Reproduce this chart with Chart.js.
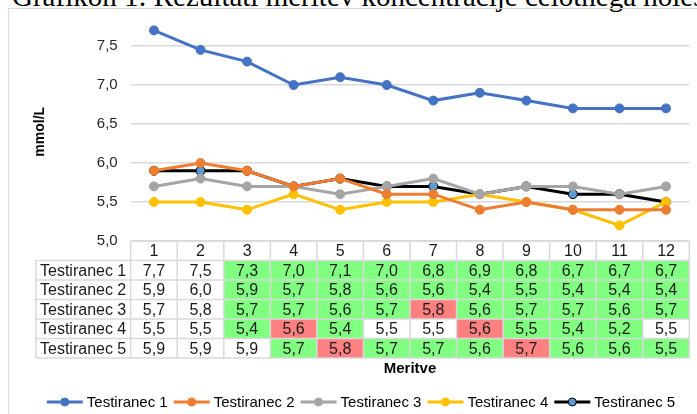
<!DOCTYPE html>
<html>
<head>
<meta charset="utf-8">
<script src="https://cdn.jsdelivr.net/npm/chart.js@4"></script>
<style>
  html, body { margin: 0; padding: 0; background: #fff; overflow: hidden; }
  #wrap { position: relative; width: 697px; height: 414px; }
  #title { position: absolute; left: 12px; top: -18px; font: 29px "Liberation Serif", "Times New Roman", serif; line-height: 29px; white-space: nowrap; color: #000; }
  #frame { position: absolute; left: 8px; top: 8px; width: 720px; height: 440px; border: 1px solid #d9d9d9; }
  #chart-box { position: absolute; left: 0; top: 0; width: 697px; height: 414px; }
</style>
</head>
<body>
<div id="wrap">
  <div id="title">Grafikon 1: Rezultati meritev koncentracije celotnega holesterola</div>
  <div id="frame"></div>
  <div id="chart-box"><canvas id="chart"></canvas></div>
</div>
<script>
const meritve = ["1","2","3","4","5","6","7","8","9","10","11","12"];
const seriesNames = ["Testiranec 1","Testiranec 2","Testiranec 3","Testiranec 4","Testiranec 5"];
const testiranec1 = [7.7, 7.45, 7.3, 7.0, 7.1, 7.0, 6.8, 6.9, 6.8, 6.7, 6.7, 6.7];
const testiranec2 = [5.9, 6.0, 5.9, 5.7, 5.8, 5.6, 5.6, 5.4, 5.5, 5.4, 5.4, 5.4];
const testiranec3 = [5.7, 5.8, 5.7, 5.7, 5.6, 5.7, 5.8, 5.6, 5.7, 5.7, 5.6, 5.7];
const testiranec4 = [5.5, 5.5, 5.4, 5.6, 5.4, 5.5, 5.5, 5.6, 5.5, 5.4, 5.2, 5.5];
const testiranec5 = [5.9, 5.9, 5.9, 5.7, 5.8, 5.7, 5.7, 5.6, 5.7, 5.6, 5.6, 5.5];
// cell marks in the data table: g = green, r = red, "" = none
const marks1 = ["","","g","g","g","g","g","g","g","g","g","g"];
const marks2 = ["","","g","g","g","g","g","g","g","g","g","g"];
const marks3 = ["","","g","g","g","g","r","g","g","g","g","g"];
const marks4 = ["","","g","r","g","","","r","g","g","g",""];
const marks5 = ["","","","g","r","g","g","g","r","g","g","g"];
const yTicks = [5.0, 5.5, 6.0, 6.5, 7.0, 7.5];

const allSeries = [testiranec1, testiranec2, testiranec3, testiranec4, testiranec5];
const allMarks = [marks1, marks2, marks3, marks4, marks5];
const lineColors = ["#4472C4","#ED7D31","#A5A5A5","#FFC000","#000000"];
const pointFills = ["#4472C4","#ED7D31","#A5A5A5","#FFC000","#5B9BD5"];
const pointBorders = ["#4472C4","#ED7D31","#A5A5A5","#FFC000","#000000"];
const FONT = '"Liberation Sans", Arial, sans-serif';

function fmt(v) {
    return (Math.round(v * 10) / 10).toFixed(1).replace(".", ",");
}

const tablePlugin = {
    id: "dataTable",
    afterDraw(chart) {
        const ctx = chart.ctx;
        const x = chart.scales.x;
        const area = chart.chartArea;
        const colW = x.width / meritve.length;
        const rowH = 19.5;
        const top = area.bottom;
        const labelLeft = 36;
        ctx.save();

        // fills
        for (let r = 0; r < allSeries.length; r++) {
            for (let c = 0; c < meritve.length; c++) {
                const m = allMarks[r][c];
                if (!m) continue;
                const cx = x.getPixelForValue(c) - colW / 2;
                const cy = top + rowH * (r + 1);
                ctx.fillStyle = m === "g" ? "#80FF80" : "#FF8080";
                ctx.fillRect(cx, cy, colW, rowH);
            }
        }

        // grid
        ctx.strokeStyle = "#d9d9d9";
        ctx.lineWidth = 1.5;
        ctx.beginPath();
        const bottom = top + rowH * (allSeries.length + 1);
        ctx.moveTo(area.left, top); ctx.lineTo(area.right, top);
        for (let r = 1; r <= allSeries.length + 1; r++) {
            ctx.moveTo(labelLeft, top + rowH * r);
            ctx.lineTo(area.right, top + rowH * r);
        }
        for (let c = 0; c <= meritve.length; c++) {
            const cx = area.left + colW * c;
            ctx.moveTo(cx, top); ctx.lineTo(cx, bottom);
        }
        ctx.moveTo(labelLeft, top + rowH); ctx.lineTo(labelLeft, bottom);
        ctx.stroke();

        // text
        ctx.fillStyle = "#1a1a1a";
        ctx.font = "16px " + FONT;
        ctx.textBaseline = "middle";
        ctx.textAlign = "center";
        for (let c = 0; c < meritve.length; c++) {
            ctx.fillText(meritve[c], x.getPixelForValue(c), top + rowH / 2 + 1);
        }
        for (let r = 0; r < allSeries.length; r++) {
            const cy = top + rowH * (r + 1) + rowH / 2 + 1;
            ctx.textAlign = "left";
            ctx.fillText(seriesNames[r], labelLeft + 4, cy);
            ctx.textAlign = "center";
            for (let c = 0; c < meritve.length; c++) {
                ctx.fillText(fmt(allSeries[r][c]), x.getPixelForValue(c), cy);
            }
        }

        // axis title under the table
        ctx.font = "bold 15px " + FONT;
        ctx.fillStyle = "#000";
        ctx.fillText("Meritve", (area.left + area.right) / 2, bottom + 11);

        // legend
        ctx.font = "15px " + FONT;
        const lineLen = 36, gap = 4, itemGap = 6;
        const widths = seriesNames.map(n => ctx.measureText(n).width);
        let total = 0;
        widths.forEach(w => total += lineLen + gap + w + itemGap);
        total -= itemGap;
        let lx = 361 - total / 2;
        const ly = 402;
        for (let i = 0; i < seriesNames.length; i++) {
            ctx.strokeStyle = lineColors[i];
            ctx.lineWidth = 3;
            ctx.beginPath();
            ctx.moveTo(lx, ly); ctx.lineTo(lx + lineLen, ly);
            ctx.stroke();
            ctx.beginPath();
            ctx.arc(lx + lineLen / 2, ly, 4, 0, Math.PI * 2);
            ctx.fillStyle = pointFills[i];
            ctx.fill();
            ctx.lineWidth = 1;
            ctx.strokeStyle = pointBorders[i];
            ctx.stroke();
            ctx.fillStyle = "#000";
            ctx.textAlign = "left";
            ctx.fillText(seriesNames[i], lx + lineLen + gap, ly + 1);
            lx += lineLen + gap + widths[i] + itemGap;
        }
        ctx.restore();
    }
};

new Chart(document.getElementById("chart"), {
    type: "line",
    data: {
        labels: meritve,
        datasets: allSeries.map((s, i) => ({
            label: seriesNames[i],
            data: s,
            borderColor: lineColors[i],
            backgroundColor: pointFills[i],
            pointBackgroundColor: pointFills[i],
            pointBorderColor: pointBorders[i],
            pointBorderWidth: 1,
            pointRadius: 4.5,
            borderWidth: 3,
            tension: 0
        }))
    },
    options: {
        responsive: true,
        maintainAspectRatio: false,
        animation: false,
        layout: { padding: { left: 28, right: 7.7, top: 22.6, bottom: 173 } },
        plugins: {
            legend: { display: false },
            tooltip: { enabled: false }
        },
        scales: {
            x: {
                display: false,
                offset: true
            },
            y: {
                min: 5,
                max: 7.8,
                afterBuildTicks: (axis) => { axis.ticks = yTicks.map(v => ({ value: v })); },
                afterFit: (scale) => { scale.width = 102.7; },
                border: { display: false },
                grid: { color: "#d9d9d9", lineWidth: 1.5, drawTicks: false },
                ticks: {
                    padding: 13,
                    color: "#262626",
                    font: { family: FONT, size: 15 },
                    callback: (v) => fmt(v)
                },
                title: {
                    display: true,
                    text: "mmol/L",
                    color: "#000",
                    font: { family: FONT, size: 14, weight: "bold" }
                }
            }
        }
    },
    plugins: [tablePlugin]
});
</script>
</body>
</html>
